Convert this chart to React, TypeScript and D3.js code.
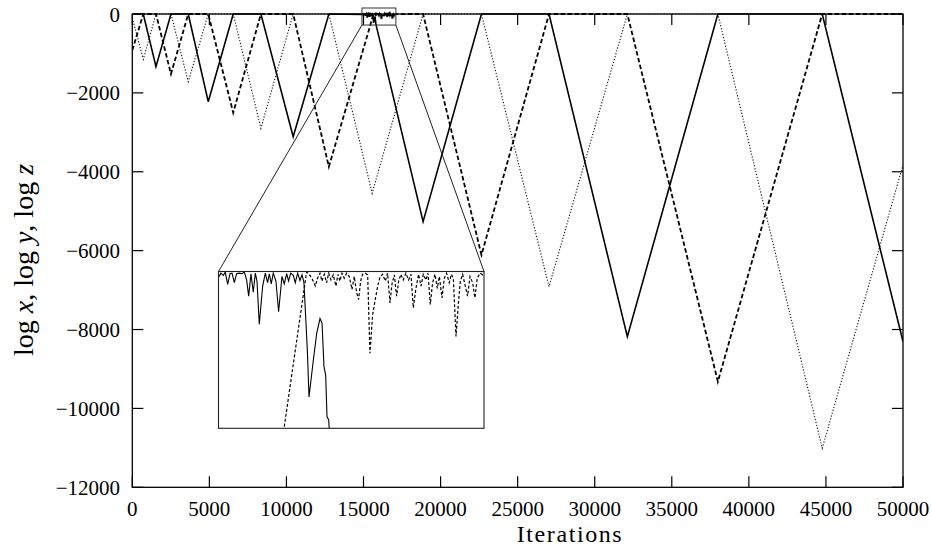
import React from 'react';
import * as d3 from 'd3';

type Pt = [number, number];

const W = 932;
const H = 548;

// Axis ticks
const xTicks = [0, 5000, 10000, 15000, 20000, 25000, 30000, 35000, 40000, 45000, 50000];
const yTicks = [0, -2000, -4000, -6000, -8000, -10000, -12000];

// log x (solid): switching vertices before the magnified window
const xHead: Pt[] = [
  [0, 0], [713, 0], [1536, -1336], [2509, 0], [3630, 0], [4927, -2223],
  [6548, 0], [8344, 0], [10438, -3110], [12752, 0],
];
// log x inside the magnified window (fluctuations near 0, then the drop)
const xZoom: Pt[] = [
  [14901, -10], [14920, -3], [14940, -7], [14956, -1], [14976, -23], [14995, -4],
  [15012, -3], [15031, -20], [15050, -4], [15072, -3], [15094, -4], [15114, -1],
  [15133, -15], [15150, -44], [15169, -4], [15188, -37], [15205, -3], [15219, -17],
  [15238, -94], [15266, -26], [15288, -3], [15307, -20], [15321, -4], [15337, -22],
  [15354, -3], [15376, -17], [15398, -72], [15426, -9], [15445, -22], [15465, -4],
  [15481, -17], [15498, -3], [15520, -7], [15536, -20], [15556, -3], [15575, -16],
  [15592, -6], [15608, -20], [15636, -140], [15650, -224], [15686, -158],
  [15714, -110], [15741, -84], [15758, -92], [15774, -170], [15788, -185],
  [15799, -259], [15813, -265], [15818, -283],
];
const xTail: Pt[] = [
  [18866, -5265], [22652, 0], [27034, 0], [32117, -8180], [37990, 0],
  [44760, 0], [50000, -8307],
];

// log y (dashed)
const yHead: Pt[] = [
  [0, -920], [713, 0], [1536, 0], [2509, -1521], [3630, 0], [4927, 0],
  [6548, -2502], [8344, 0], [10438, 0], [12752, -3871], [15443, -280],
];
const yZoom: Pt[] = [
  [15630, -1], [15652, -5], [15680, -15], [15702, -26], [15721, -12], [15741, -3],
  [15757, -17], [15777, -5], [15796, -20], [15813, -3], [15832, -15], [15851, -6],
  [15873, -26], [15890, -5], [15906, -17], [15923, -3], [15942, -12], [15962, -3],
  [15984, -9], [16006, -32], [16025, -9], [16045, -38], [16061, -50], [16078, -17],
  [16094, -5], [16116, -3], [16136, -6], [16155, -146], [16177, -77], [16199, -50],
  [16219, -26], [16238, -10], [16260, -5], [16282, -17], [16301, -3], [16321, -56],
  [16337, -23], [16357, -6], [16376, -44], [16393, -17], [16412, -5], [16431, -15],
  [16453, -3], [16475, -15], [16495, -5], [16514, -65], [16536, -30], [16558, -5],
  [16578, -26], [16597, -5], [16619, -15], [16636, -3], [16655, -59], [16674, -20],
  [16694, -5], [16713, -30], [16730, -9], [16752, -47], [16771, -12], [16790, -3],
  [16812, -20], [16829, -5], [16846, -12], [16868, -116], [16887, -59], [16904, -17],
  [16923, -5], [16945, -26], [16964, -44], [16984, -9], [17006, -20], [17025, -47],
  [17044, -12], [17067, -3], [17089, -6], [17105, -1],
];
const yTail: Pt[] = [
  [18866, 0], [22652, -6109], [27034, 0], [32117, 0], [37990, -9321],
  [44760, 0], [50000, 0],
];

// log z (dotted)
const zPts: Pt[] = [
  [0, -100], [713, -1148], [1536, 0], [2509, 0], [3630, -1716], [4927, 0],
  [6548, 0], [8344, -2898], [10438, 0], [12752, 0], [15560, -4545], [18866, 0],
  [22652, 0], [27034, -6913], [32117, 0], [37990, 0], [44760, -11010], [50000, -3828],
];

const logX: Pt[] = [...xHead, ...xZoom, ...xTail];
const logY: Pt[] = [...yHead, ...yZoom, ...yTail];
const logZ: Pt[] = zPts;

// Magnified window
const zoomT: [number, number] = [14900, 17100];
const zoomV: [number, number] = [-280, 0];

const FONT = '"Liberation Serif", "Times New Roman", serif';

export default function App() {
  const left = 132.3, right = 903, top = 14, bottom = 487.3;
  const sx = d3.scaleLinear().domain([0, 50000]).range([left, right]);
  const sy = d3.scaleLinear().domain([-12000, 0]).range([bottom, top]);

  const inL = 218.5, inR = 484, inT = 271.5, inB = 428.3;
  const ix = d3.scaleLinear().domain(zoomT).range([inL, inR]);
  const iy = d3.scaleLinear().domain(zoomV).range([inB, inT]);

  const mainLine = d3.line<Pt>().x(d => sx(d[0])).y(d => sy(d[1]));
  const insetLine = d3.line<Pt>().x(d => ix(d[0])).y(d => iy(d[1]));

  const tickLen = 11;

  // window rectangle on the main axes
  const bx0 = sx(zoomT[0]);
  const bx1 = sx(zoomT[1]);
  const by0 = sy(zoomV[1]) - 6;
  const by1 = sy(zoomV[0]);

  const fmt = (v: number) => (v < 0 ? '\u2212' + Math.abs(v) : String(v));

  return (
    <svg width={W} height={H} style={{ position: 'absolute', left: 0, top: 0, background: '#fff' }}>
      <defs>
        <clipPath id="plotClip">
          <rect x={left} y={top - 4} width={right - left} height={bottom - top + 4} />
        </clipPath>
        <clipPath id="insetClip">
          <rect x={inL} y={inT - 1} width={inR - inL} height={inB - inT + 1} />
        </clipPath>
      </defs>
      <rect x={0} y={0} width={W} height={H} fill="#fff" />

      {/* series */}
      <g clipPath="url(#plotClip)" fill="none">
        <path d={mainLine(logZ) || ''} stroke="#111" strokeWidth={1.1} strokeDasharray="1.2,1.8" />
        <path d={mainLine(logY) || ''} stroke="#000" strokeWidth={1.8} strokeDasharray="4.5,2.5" />
        <path d={mainLine(logX) || ''} stroke="#000" strokeWidth={1.6} />
      </g>

      {/* frame and ticks */}
      <rect x={left} y={top} width={right - left} height={bottom - top} fill="none" stroke="#000" strokeWidth={1.3} />
      {xTicks.map(t => (
        <g key={'xt' + t}>
          <line x1={sx(t)} x2={sx(t)} y1={bottom} y2={bottom - tickLen} stroke="#000" strokeWidth={1.2} />
          <line x1={sx(t)} x2={sx(t)} y1={top} y2={top + tickLen} stroke="#000" strokeWidth={1.2} />
          <text x={sx(t)} y={515.5} textAnchor="middle" fontFamily={FONT} fontSize={21} fill="#000">
            {fmt(t)}
          </text>
        </g>
      ))}
      {yTicks.map(v => (
        <g key={'yt' + v}>
          <line x1={left} x2={left + tickLen} y1={sy(v)} y2={sy(v)} stroke="#000" strokeWidth={1.2} />
          <line x1={right} x2={right - tickLen} y1={sy(v)} y2={sy(v)} stroke="#000" strokeWidth={1.2} />
          <text x={120} y={sy(v) + 7.5} textAnchor="end" fontFamily={FONT} fontSize={21} fill="#000">
            {fmt(v)}
          </text>
        </g>
      ))}

      {/* window marker and connectors */}
      <rect x={bx0} y={by0} width={bx1 - bx0} height={by1 - by0} fill="none" stroke="#333" strokeWidth={1} />
      <line x1={bx0} y1={by1} x2={inL} y2={inT} stroke="#222" strokeWidth={1} />
      <line x1={bx1} y1={by1} x2={inR} y2={inT} stroke="#222" strokeWidth={1} />

      {/* inset */}
      <rect x={inL} y={inT} width={inR - inL} height={inB - inT} fill="#fff" stroke="none" />
      <g clipPath="url(#insetClip)" fill="none">
        <path d={insetLine(logY) || ''} stroke="#000" strokeWidth={1.2} strokeDasharray="3,2" />
        <path d={insetLine(logX) || ''} stroke="#000" strokeWidth={1.1} />
      </g>
      <rect x={inL} y={inT} width={inR - inL} height={inB - inT} fill="none" stroke="#222" strokeWidth={1.1} />

      {/* axis titles */}
      <text x={570} y={542} textAnchor="middle" fontFamily={FONT} fontSize={24} letterSpacing={1.6} fill="#000">
        Iterations
      </text>
      <text
        transform="translate(33,260) rotate(-90)"
        textAnchor="middle"
        fontFamily={FONT}
        fontSize={28}
        fill="#000"
      >
        <tspan>log </tspan>
        <tspan fontStyle="italic">x</tspan>
        <tspan>, log </tspan>
        <tspan fontStyle="italic">y</tspan>
        <tspan>, log </tspan>
        <tspan fontStyle="italic">z</tspan>
      </text>
    </svg>
  );
}
